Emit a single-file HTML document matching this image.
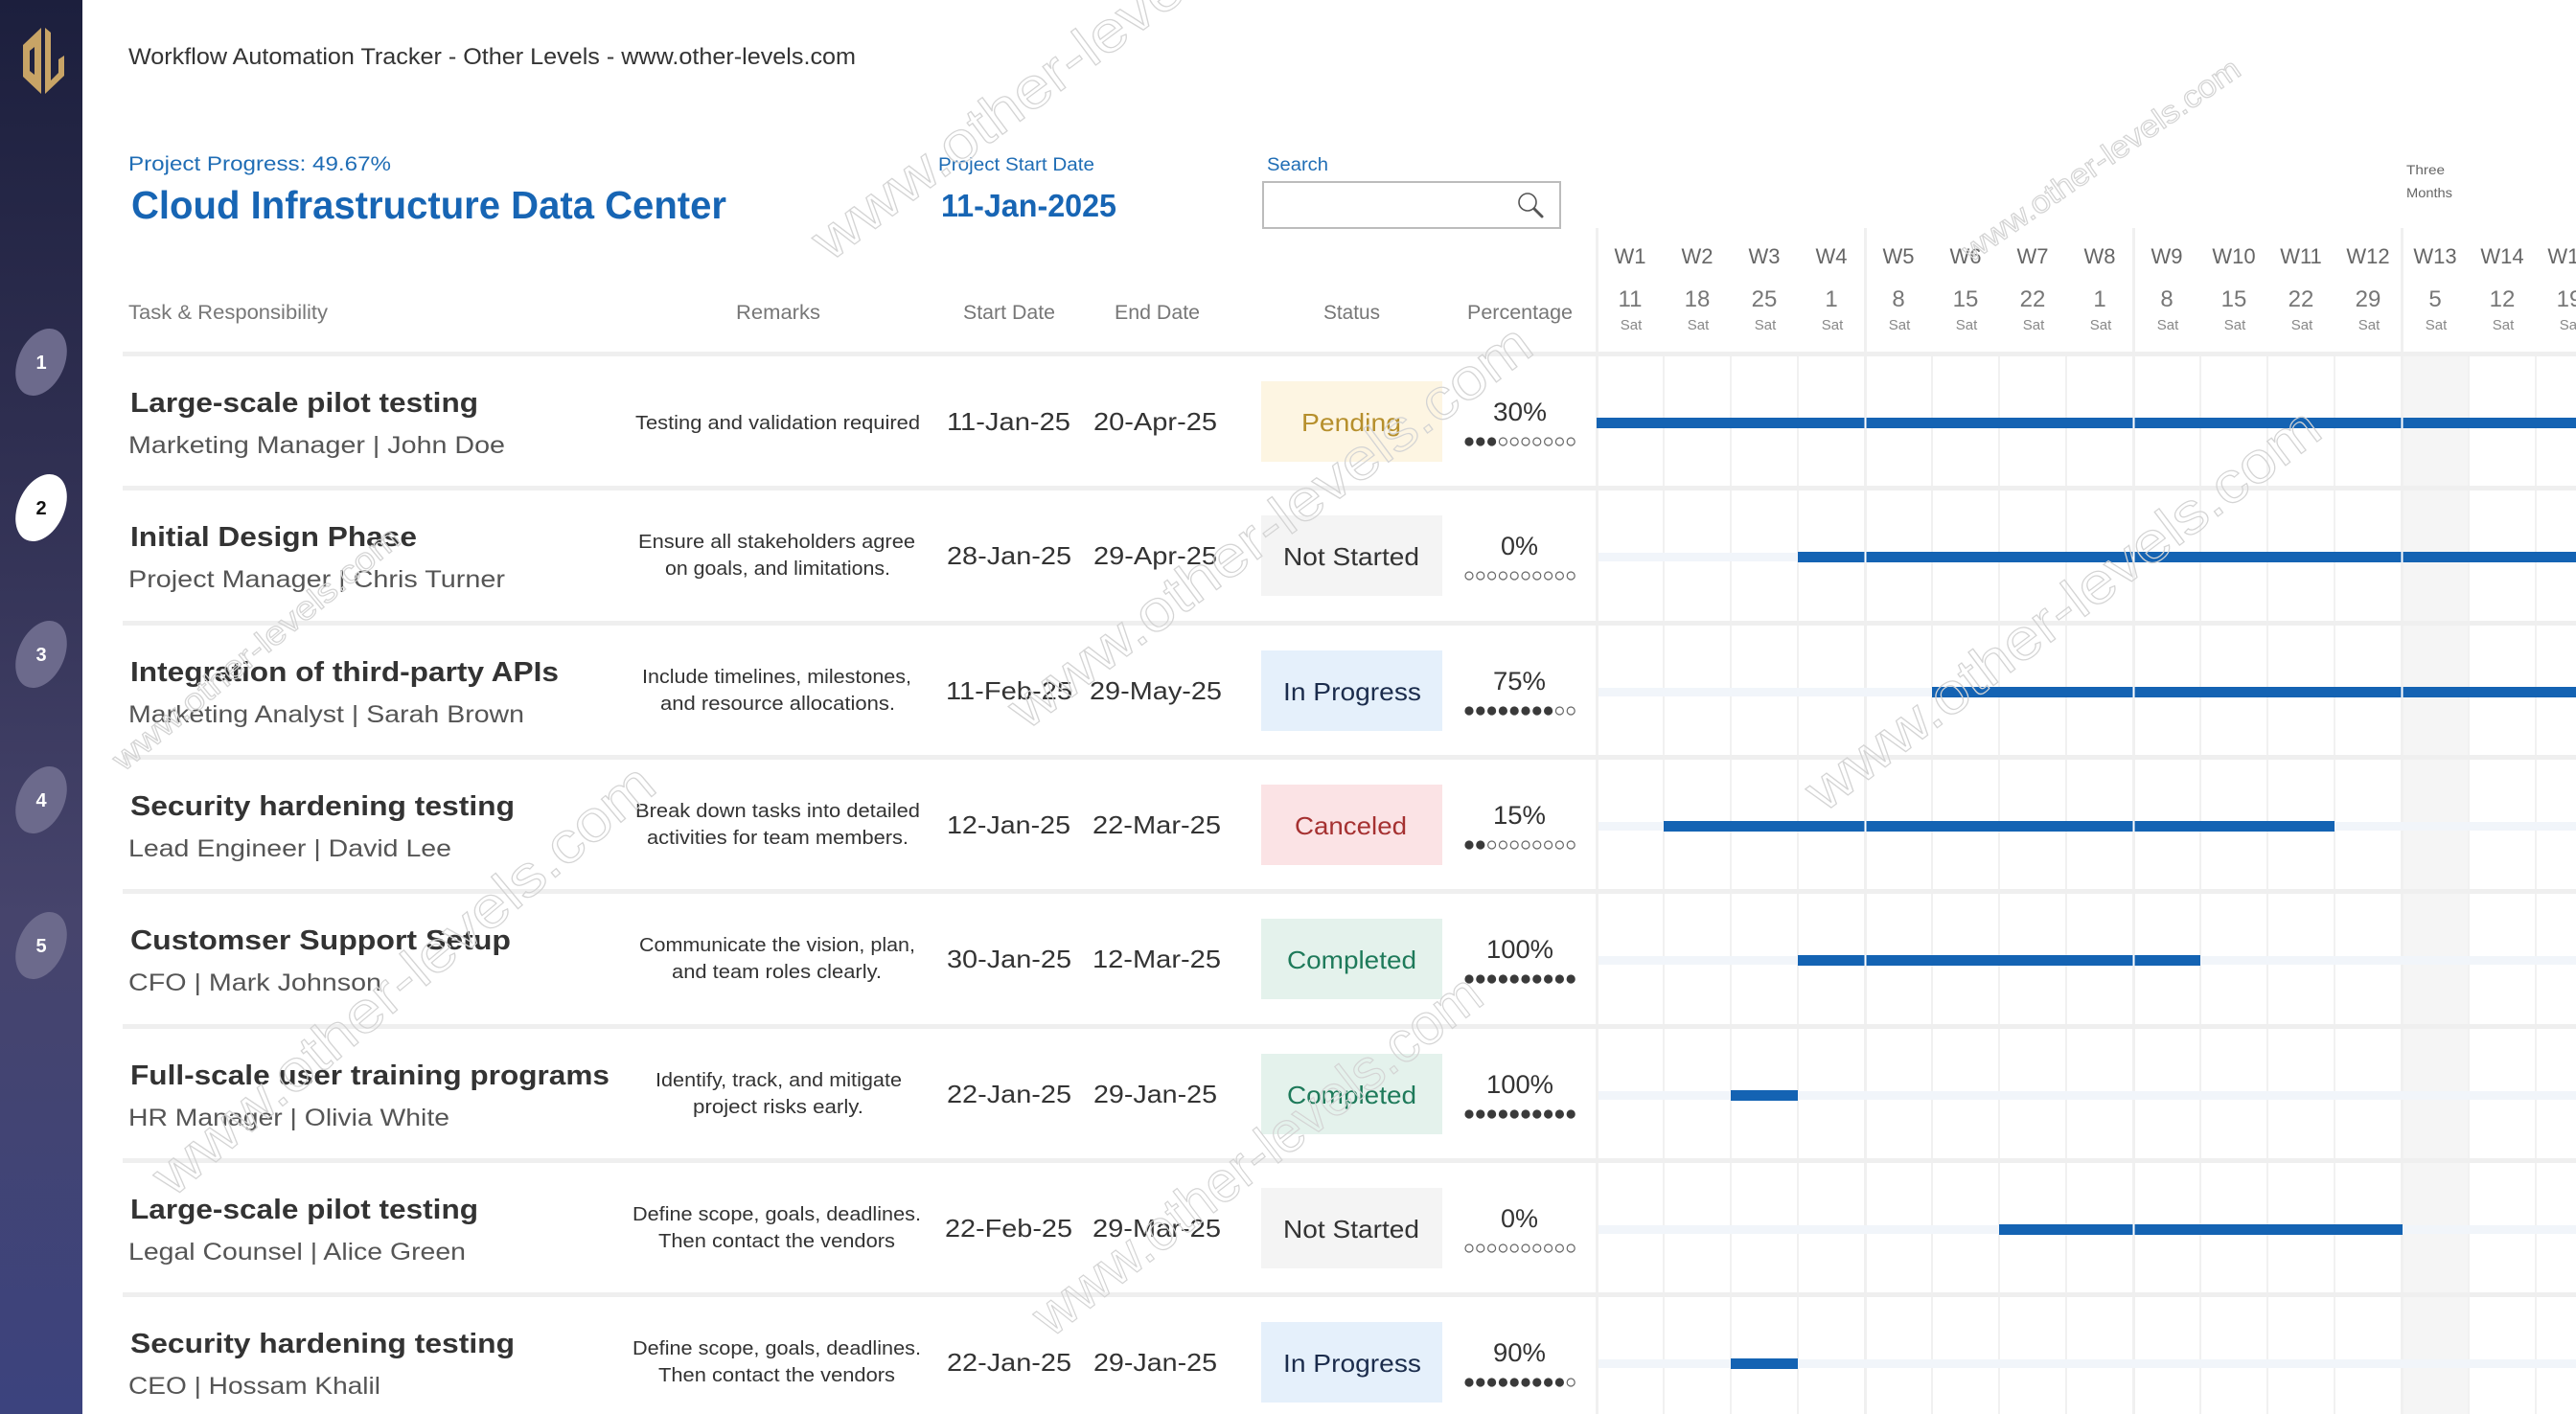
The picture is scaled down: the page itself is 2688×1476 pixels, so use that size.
<!DOCTYPE html>
<html><head><meta charset="utf-8"><style>
html,body{margin:0;padding:0;background:#fff;}
svg{display:block;font-family:"Liberation Sans",Arial,sans-serif;}
</style></head><body>
<svg width="2688" height="1476" viewBox="0 0 2688 1476" xmlns="http://www.w3.org/2000/svg">
<defs>
<linearGradient id="sb" x1="0" y1="0" x2="0" y2="1">
<stop offset="0" stop-color="#1c1f3d"/><stop offset="0.3" stop-color="#2e2e50"/><stop offset="0.65" stop-color="#46446c"/><stop offset="1" stop-color="#3c437e"/>
</linearGradient>
</defs>
<rect width="2688" height="1476" fill="#fff"/>
<!-- sidebar -->
<rect x="0" y="0" width="86" height="1476" fill="url(#sb)"/>
<path d="M43,29 L43,98 L24,80 L24,47 Z M31,53 L36,49 L36,78 L31,74 Z" fill="#c8a466" fill-rule="evenodd"/>
<path d="M47,29 L53,34 L53,84 L61,76 L61,62 L67,58 L67,79 L47,98 Z" fill="#c8a466"/>
<g font-weight="bold" font-size="20" text-anchor="middle">
<ellipse cx="43" cy="378" rx="24" ry="37" transform="rotate(25 43 378)" fill="#6c6a8c"/><text x="43" y="385" fill="#fff">1</text>
<ellipse cx="43" cy="530" rx="24" ry="37" transform="rotate(25 43 530)" fill="#fff"/><text x="43" y="537" fill="#111">2</text>
<ellipse cx="43" cy="683" rx="24" ry="37" transform="rotate(25 43 683)" fill="#6c6a8c"/><text x="43" y="690" fill="#fff">3</text>
<ellipse cx="43" cy="835" rx="24" ry="37" transform="rotate(25 43 835)" fill="#6c6a8c"/><text x="43" y="842" fill="#fff">4</text>
<ellipse cx="43" cy="987" rx="24" ry="37" transform="rotate(25 43 987)" fill="#6c6a8c"/><text x="43" y="994" fill="#fff">5</text>
</g>

<!-- gantt background / grid -->
<rect x="2506" y="369" width="70" height="1107" fill="#f5f5f5"/>
<g fill="#f0f0f0">
<rect x="1665" y="238" width="3" height="1238"/>
<rect x="1945" y="238" width="3" height="1238"/>
<rect x="2225" y="238" width="3" height="1238"/>
<rect x="2505" y="238" width="3" height="1238"/>
</g>
<g fill="#f1f1f1">
<rect x="1735" y="369" width="2" height="1107"/><rect x="1805" y="369" width="2" height="1107"/><rect x="1875" y="369" width="2" height="1107"/>
<rect x="2015" y="369" width="2" height="1107"/><rect x="2085" y="369" width="2" height="1107"/><rect x="2155" y="369" width="2" height="1107"/>
<rect x="2295" y="369" width="2" height="1107"/><rect x="2365" y="369" width="2" height="1107"/><rect x="2435" y="369" width="2" height="1107"/>
<rect x="2575" y="369" width="2" height="1107"/><rect x="2645" y="369" width="2" height="1107"/>
</g>
<!-- row separators -->
<g fill="#efefef">
<rect x="128" y="367" width="2560" height="5"/>
<rect x="128" y="507" width="2560" height="5"/>
<rect x="128" y="648" width="2560" height="5"/>
<rect x="128" y="788" width="2560" height="5"/>
<rect x="128" y="928" width="2560" height="5"/>
<rect x="128" y="1069" width="2560" height="5"/>
<rect x="128" y="1209" width="2560" height="5"/>
<rect x="128" y="1349" width="2560" height="5"/>
</g>
<!-- faint tracks -->
<g fill="#f1f5fa">
<rect x="1668" y="437" width="1020" height="9"/><rect x="1668" y="577" width="1020" height="9"/>
<rect x="1668" y="718" width="1020" height="9"/><rect x="1668" y="858" width="1020" height="9"/>
<rect x="1668" y="998" width="1020" height="9"/><rect x="1668" y="1139" width="1020" height="9"/>
<rect x="1668" y="1279" width="1020" height="9"/><rect x="1668" y="1419" width="1020" height="9"/>
</g>
<!-- bars -->
<g fill="#1463b3">
<rect x="1666" y="436" width="1022" height="11"/>
<rect x="1876" y="576" width="812" height="11"/>
<rect x="2016" y="717" width="672" height="11"/>
<rect x="1736" y="857" width="700" height="11"/>
<rect x="1876" y="997" width="420" height="11"/>
<rect x="1806" y="1138" width="70" height="11"/>
<rect x="2086" y="1278" width="421" height="11"/>
<rect x="1806" y="1418" width="70" height="11"/>
</g>
<g fill="#fff">
<rect x="1945.5" y="436" width="2" height="11"/><rect x="2225.5" y="436" width="2" height="11"/><rect x="2505.5" y="436" width="2" height="11"/>
<rect x="1945.5" y="576" width="2" height="11"/><rect x="2225.5" y="576" width="2" height="11"/><rect x="2505.5" y="576" width="2" height="11"/>
<rect x="2225.5" y="717" width="2" height="11"/><rect x="2505.5" y="717" width="2" height="11"/>
<rect x="1945.5" y="857" width="2" height="11"/><rect x="2225.5" y="857" width="2" height="11"/>
<rect x="1945.5" y="997" width="2" height="11"/><rect x="2225.5" y="997" width="2" height="11"/>
<rect x="2225.5" y="1278" width="2" height="11"/>
</g>

<!-- header texts -->
<text x="134" y="67" font-size="24" fill="#333" textLength="759" lengthAdjust="spacingAndGlyphs">Workflow Automation Tracker  -  Other Levels  -  www.other-levels.com</text>
<text x="134" y="178" font-size="21" fill="#1f6db5" textLength="274" lengthAdjust="spacingAndGlyphs">Project Progress: 49.67%</text>
<text x="137" y="228" font-size="41" font-weight="bold" fill="#1765b4" textLength="621" lengthAdjust="spacingAndGlyphs">Cloud Infrastructure Data Center</text>
<text x="979" y="178" font-size="19" fill="#1f6db5" textLength="163" lengthAdjust="spacingAndGlyphs">Project Start Date</text>
<text x="982" y="226" font-size="33" font-weight="bold" fill="#1765b4" textLength="183" lengthAdjust="spacingAndGlyphs">11-Jan-2025</text>
<text x="1322" y="178" font-size="19" fill="#1f6db5" textLength="64" lengthAdjust="spacingAndGlyphs">Search</text>
<rect x="1318" y="190" width="310" height="48" fill="#fff" stroke="#bcbcbc" stroke-width="2"/>
<circle cx="1594" cy="211" r="9" fill="none" stroke="#555" stroke-width="1.6"/>
<line x1="1601" y1="218" x2="1609" y2="226" stroke="#555" stroke-width="3" stroke-linecap="round"/>

<g font-size="21" fill="#777">
<text x="134" y="333" textLength="208" lengthAdjust="spacingAndGlyphs">Task &amp; Responsibility</text>
<text x="768" y="333" textLength="88" lengthAdjust="spacingAndGlyphs">Remarks</text>
<text x="1005" y="333" textLength="96" lengthAdjust="spacingAndGlyphs">Start Date</text>
<text x="1163" y="333" textLength="89" lengthAdjust="spacingAndGlyphs">End Date</text>
<text x="1381" y="333" textLength="59" lengthAdjust="spacingAndGlyphs">Status</text>
<text x="1531" y="333" textLength="110" lengthAdjust="spacingAndGlyphs">Percentage</text>
</g>

<!-- gantt header -->
<g text-anchor="middle" fill="#666" font-size="22">
<text x="1701" y="275">W1</text><text x="1771" y="275">W2</text><text x="1841" y="275">W3</text><text x="1911" y="275">W4</text>
<text x="1981" y="275">W5</text><text x="2051" y="275">W6</text><text x="2121" y="275">W7</text><text x="2191" y="275">W8</text>
<text x="2261" y="275">W9</text><text x="2331" y="275">W10</text><text x="2401" y="275">W11</text><text x="2471" y="275">W12</text>
<text x="2541" y="275">W13</text><text x="2611" y="275">W14</text><text x="2681" y="275">W15</text>
</g>
<g text-anchor="middle" fill="#777" font-size="24">
<text x="1701" y="320">11</text><text x="1771" y="320">18</text><text x="1841" y="320">25</text><text x="1911" y="320">1</text>
<text x="1981" y="320">8</text><text x="2051" y="320">15</text><text x="2121" y="320">22</text><text x="2191" y="320">1</text>
<text x="2261" y="320">8</text><text x="2331" y="320">15</text><text x="2401" y="320">22</text><text x="2471" y="320">29</text>
<text x="2541" y="320">5</text><text x="2611" y="320">12</text><text x="2681" y="320">19</text>
</g>
<g text-anchor="middle" fill="#888" font-size="15">
<text x="1702" y="344">Sat</text><text x="1772" y="344">Sat</text><text x="1842" y="344">Sat</text><text x="1912" y="344">Sat</text>
<text x="1982" y="344">Sat</text><text x="2052" y="344">Sat</text><text x="2122" y="344">Sat</text><text x="2192" y="344">Sat</text>
<text x="2262" y="344">Sat</text><text x="2332" y="344">Sat</text><text x="2402" y="344">Sat</text><text x="2472" y="344">Sat</text>
<text x="2542" y="344">Sat</text><text x="2612" y="344">Sat</text><text x="2682" y="344">Sat</text>
</g>
<text x="2511" y="182" font-size="14" fill="#666" textLength="40" lengthAdjust="spacingAndGlyphs">Three</text>
<text x="2511" y="206" font-size="14" fill="#666" textLength="48" lengthAdjust="spacingAndGlyphs">Months</text>

<!-- task titles -->
<g font-size="29" font-weight="bold" fill="#333">
<text x="136" y="430" textLength="363" lengthAdjust="spacingAndGlyphs">Large-scale pilot testing</text>
<text x="136" y="570" textLength="299" lengthAdjust="spacingAndGlyphs">Initial Design Phase</text>
<text x="136" y="711" textLength="447" lengthAdjust="spacingAndGlyphs">Integration of third-party APIs</text>
<text x="136" y="851" textLength="401" lengthAdjust="spacingAndGlyphs">Security hardening testing</text>
<text x="136" y="991" textLength="397" lengthAdjust="spacingAndGlyphs">Customser Support Setup</text>
<text x="136" y="1132" textLength="500" lengthAdjust="spacingAndGlyphs">Full-scale user training programs</text>
<text x="136" y="1272" textLength="363" lengthAdjust="spacingAndGlyphs">Large-scale pilot testing</text>
<text x="136" y="1412" textLength="401" lengthAdjust="spacingAndGlyphs">Security hardening testing</text>
</g>
<g font-size="25" fill="#555">
<text x="134" y="473" textLength="393" lengthAdjust="spacingAndGlyphs">Marketing Manager | John Doe</text>
<text x="134" y="613" textLength="393" lengthAdjust="spacingAndGlyphs">Project Manager | Chris Turner</text>
<text x="134" y="754" textLength="413" lengthAdjust="spacingAndGlyphs">Marketing Analyst | Sarah Brown</text>
<text x="134" y="894" textLength="337" lengthAdjust="spacingAndGlyphs">Lead Engineer | David Lee</text>
<text x="134" y="1034" textLength="264" lengthAdjust="spacingAndGlyphs">CFO | Mark Johnson</text>
<text x="134" y="1175" textLength="335" lengthAdjust="spacingAndGlyphs">HR Manager | Olivia White</text>
<text x="134" y="1315" textLength="352" lengthAdjust="spacingAndGlyphs">Legal Counsel | Alice Green</text>
<text x="134" y="1455" textLength="263" lengthAdjust="spacingAndGlyphs">CEO | Hossam Khalil</text>
</g>
<!-- remarks -->
<g font-size="20" fill="#333">
<text x="663" y="448" textLength="297" lengthAdjust="spacingAndGlyphs">Testing and validation required</text>
<text x="666" y="572" textLength="289" lengthAdjust="spacingAndGlyphs">Ensure all stakeholders agree</text>
<text x="694" y="600" textLength="235" lengthAdjust="spacingAndGlyphs">on goals, and limitations.</text>
<text x="670" y="713" textLength="281" lengthAdjust="spacingAndGlyphs">Include timelines, milestones,</text>
<text x="689" y="741" textLength="245" lengthAdjust="spacingAndGlyphs">and resource allocations.</text>
<text x="663" y="853" textLength="297" lengthAdjust="spacingAndGlyphs">Break down tasks into detailed</text>
<text x="675" y="881" textLength="273" lengthAdjust="spacingAndGlyphs">activities for team members.</text>
<text x="667" y="993" textLength="288" lengthAdjust="spacingAndGlyphs">Communicate the vision, plan,</text>
<text x="701" y="1021" textLength="219" lengthAdjust="spacingAndGlyphs">and team roles clearly.</text>
<text x="684" y="1134" textLength="257" lengthAdjust="spacingAndGlyphs">Identify, track, and mitigate</text>
<text x="723" y="1162" textLength="178" lengthAdjust="spacingAndGlyphs">project risks early.</text>
<text x="660" y="1274" textLength="301" lengthAdjust="spacingAndGlyphs">Define scope, goals, deadlines.</text>
<text x="687" y="1302" textLength="247" lengthAdjust="spacingAndGlyphs">Then contact the vendors</text>
<text x="660" y="1414" textLength="301" lengthAdjust="spacingAndGlyphs">Define scope, goals, deadlines.</text>
<text x="687" y="1442" textLength="247" lengthAdjust="spacingAndGlyphs">Then contact the vendors</text>
</g>
<!-- dates -->
<g font-size="26" fill="#333">
<text x="988" y="449" textLength="129" lengthAdjust="spacingAndGlyphs">11-Jan-25</text>
<text x="1141" y="449" textLength="129" lengthAdjust="spacingAndGlyphs">20-Apr-25</text>
<text x="988" y="589" textLength="130" lengthAdjust="spacingAndGlyphs">28-Jan-25</text>
<text x="1141" y="589" textLength="129" lengthAdjust="spacingAndGlyphs">29-Apr-25</text>
<text x="987" y="730" textLength="132" lengthAdjust="spacingAndGlyphs">11-Feb-25</text>
<text x="1137" y="730" textLength="138" lengthAdjust="spacingAndGlyphs">29-May-25</text>
<text x="988" y="870" textLength="129" lengthAdjust="spacingAndGlyphs">12-Jan-25</text>
<text x="1140" y="870" textLength="134" lengthAdjust="spacingAndGlyphs">22-Mar-25</text>
<text x="988" y="1010" textLength="130" lengthAdjust="spacingAndGlyphs">30-Jan-25</text>
<text x="1140" y="1010" textLength="134" lengthAdjust="spacingAndGlyphs">12-Mar-25</text>
<text x="988" y="1151" textLength="130" lengthAdjust="spacingAndGlyphs">22-Jan-25</text>
<text x="1141" y="1151" textLength="129" lengthAdjust="spacingAndGlyphs">29-Jan-25</text>
<text x="986" y="1291" textLength="133" lengthAdjust="spacingAndGlyphs">22-Feb-25</text>
<text x="1140" y="1291" textLength="134" lengthAdjust="spacingAndGlyphs">29-Mar-25</text>
<text x="988" y="1431" textLength="130" lengthAdjust="spacingAndGlyphs">22-Jan-25</text>
<text x="1141" y="1431" textLength="129" lengthAdjust="spacingAndGlyphs">29-Jan-25</text>
</g>
<!-- status badges -->
<rect x="1316" y="398" width="189" height="84" fill="#fdf5e2"/>
<rect x="1316" y="538" width="189" height="84" fill="#f4f4f4"/>
<rect x="1316" y="679" width="189" height="84" fill="#e5f0fb"/>
<rect x="1316" y="819" width="189" height="84" fill="#fbe3e5"/>
<rect x="1316" y="959" width="189" height="84" fill="#e4f2ec"/>
<rect x="1316" y="1100" width="189" height="84" fill="#e4f2ec"/>
<rect x="1316" y="1240" width="189" height="84" fill="#f4f4f4"/>
<rect x="1316" y="1380" width="189" height="84" fill="#e5f0fb"/>
<g font-size="26">
<text x="1358" y="450" fill="#b68f2c" textLength="104" lengthAdjust="spacingAndGlyphs">Pending</text>
<text x="1339" y="590" fill="#333" textLength="142" lengthAdjust="spacingAndGlyphs">Not Started</text>
<text x="1339" y="731" fill="#1b2c4c" textLength="144" lengthAdjust="spacingAndGlyphs">In Progress</text>
<text x="1351" y="871" fill="#a53131" textLength="117" lengthAdjust="spacingAndGlyphs">Canceled</text>
<text x="1343" y="1011" fill="#1e7a5a" textLength="135" lengthAdjust="spacingAndGlyphs">Completed</text>
<text x="1343" y="1152" fill="#1e7a5a" textLength="135" lengthAdjust="spacingAndGlyphs">Completed</text>
<text x="1339" y="1292" fill="#333" textLength="142" lengthAdjust="spacingAndGlyphs">Not Started</text>
<text x="1339" y="1432" fill="#1b2c4c" textLength="144" lengthAdjust="spacingAndGlyphs">In Progress</text>
</g>
<!-- percentages -->
<g font-size="27" fill="#333">
<text x="1558" y="439" textLength="56" lengthAdjust="spacingAndGlyphs">30%</text>
<text x="1566" y="579" textLength="39" lengthAdjust="spacingAndGlyphs">0%</text>
<text x="1558" y="720" textLength="55" lengthAdjust="spacingAndGlyphs">75%</text>
<text x="1558" y="860" textLength="55" lengthAdjust="spacingAndGlyphs">15%</text>
<text x="1551" y="1000" textLength="70" lengthAdjust="spacingAndGlyphs">100%</text>
<text x="1551" y="1141" textLength="70" lengthAdjust="spacingAndGlyphs">100%</text>
<text x="1566" y="1281" textLength="39" lengthAdjust="spacingAndGlyphs">0%</text>
<text x="1558" y="1421" textLength="55" lengthAdjust="spacingAndGlyphs">90%</text>
</g>
<!-- dots -->
<g fill="#3a3a3a">
<circle cx="1533" cy="461" r="4.6"/><circle cx="1544.8" cy="461" r="4.6"/><circle cx="1556.6" cy="461" r="4.6"/>
<circle cx="1533" cy="742" r="4.6"/><circle cx="1544.8" cy="742" r="4.6"/><circle cx="1556.6" cy="742" r="4.6"/><circle cx="1568.4" cy="742" r="4.6"/><circle cx="1580.2" cy="742" r="4.6"/><circle cx="1592" cy="742" r="4.6"/><circle cx="1603.8" cy="742" r="4.6"/><circle cx="1615.6" cy="742" r="4.6"/>
<circle cx="1533" cy="882" r="4.6"/><circle cx="1544.8" cy="882" r="4.6"/>
<circle cx="1533" cy="1022" r="4.6"/><circle cx="1544.8" cy="1022" r="4.6"/><circle cx="1556.6" cy="1022" r="4.6"/><circle cx="1568.4" cy="1022" r="4.6"/><circle cx="1580.2" cy="1022" r="4.6"/><circle cx="1592" cy="1022" r="4.6"/><circle cx="1603.8" cy="1022" r="4.6"/><circle cx="1615.6" cy="1022" r="4.6"/><circle cx="1627.4" cy="1022" r="4.6"/><circle cx="1639.2" cy="1022" r="4.6"/>
<circle cx="1533" cy="1163" r="4.6"/><circle cx="1544.8" cy="1163" r="4.6"/><circle cx="1556.6" cy="1163" r="4.6"/><circle cx="1568.4" cy="1163" r="4.6"/><circle cx="1580.2" cy="1163" r="4.6"/><circle cx="1592" cy="1163" r="4.6"/><circle cx="1603.8" cy="1163" r="4.6"/><circle cx="1615.6" cy="1163" r="4.6"/><circle cx="1627.4" cy="1163" r="4.6"/><circle cx="1639.2" cy="1163" r="4.6"/>
<circle cx="1533" cy="1443" r="4.6"/><circle cx="1544.8" cy="1443" r="4.6"/><circle cx="1556.6" cy="1443" r="4.6"/><circle cx="1568.4" cy="1443" r="4.6"/><circle cx="1580.2" cy="1443" r="4.6"/><circle cx="1592" cy="1443" r="4.6"/><circle cx="1603.8" cy="1443" r="4.6"/><circle cx="1615.6" cy="1443" r="4.6"/><circle cx="1627.4" cy="1443" r="4.6"/>
</g>
<g fill="none" stroke="#666" stroke-width="1.2">
<circle cx="1568.4" cy="461" r="4"/><circle cx="1580.2" cy="461" r="4"/><circle cx="1592" cy="461" r="4"/><circle cx="1603.8" cy="461" r="4"/><circle cx="1615.6" cy="461" r="4"/><circle cx="1627.4" cy="461" r="4"/><circle cx="1639.2" cy="461" r="4"/>
<circle cx="1533" cy="601" r="4"/><circle cx="1544.8" cy="601" r="4"/><circle cx="1556.6" cy="601" r="4"/><circle cx="1568.4" cy="601" r="4"/><circle cx="1580.2" cy="601" r="4"/><circle cx="1592" cy="601" r="4"/><circle cx="1603.8" cy="601" r="4"/><circle cx="1615.6" cy="601" r="4"/><circle cx="1627.4" cy="601" r="4"/><circle cx="1639.2" cy="601" r="4"/>
<circle cx="1627.4" cy="742" r="4"/><circle cx="1639.2" cy="742" r="4"/>
<circle cx="1556.6" cy="882" r="4"/><circle cx="1568.4" cy="882" r="4"/><circle cx="1580.2" cy="882" r="4"/><circle cx="1592" cy="882" r="4"/><circle cx="1603.8" cy="882" r="4"/><circle cx="1615.6" cy="882" r="4"/><circle cx="1627.4" cy="882" r="4"/><circle cx="1639.2" cy="882" r="4"/>
<circle cx="1533" cy="1303" r="4"/><circle cx="1544.8" cy="1303" r="4"/><circle cx="1556.6" cy="1303" r="4"/><circle cx="1568.4" cy="1303" r="4"/><circle cx="1580.2" cy="1303" r="4"/><circle cx="1592" cy="1303" r="4"/><circle cx="1603.8" cy="1303" r="4"/><circle cx="1615.6" cy="1303" r="4"/><circle cx="1627.4" cy="1303" r="4"/><circle cx="1639.2" cy="1303" r="4"/>
<circle cx="1639.2" cy="1443" r="4"/>
</g>

<!-- watermarks -->
<g fill="none" stroke="#d4d4d4" stroke-width="1.2" font-size="60">
<text transform="translate(866,274) rotate(-36.6)" textLength="663" lengthAdjust="spacingAndGlyphs">www.other-levels.com</text>
<text transform="translate(1071,763) rotate(-36.6)" textLength="663" lengthAdjust="spacingAndGlyphs">www.other-levels.com</text>
<text transform="translate(1903,849) rotate(-37)" textLength="655" lengthAdjust="spacingAndGlyphs">www.other-levels.com</text>
<text transform="translate(180,1251) rotate(-40)" textLength="663" lengthAdjust="spacingAndGlyphs">www.other-levels.com</text>
<text transform="translate(1097,1397) rotate(-37.7)" textLength="574" lengthAdjust="spacingAndGlyphs">www.other-levels.com</text>
<text transform="translate(2057,274) rotate(-34.8)" font-size="32" textLength="345" lengthAdjust="spacingAndGlyphs">www.other-levels.com</text>
<text transform="translate(129,806) rotate(-39.5)" font-size="34" textLength="377" lengthAdjust="spacingAndGlyphs">www.other-levels.com</text>
</g>
</svg>
</body></html>
